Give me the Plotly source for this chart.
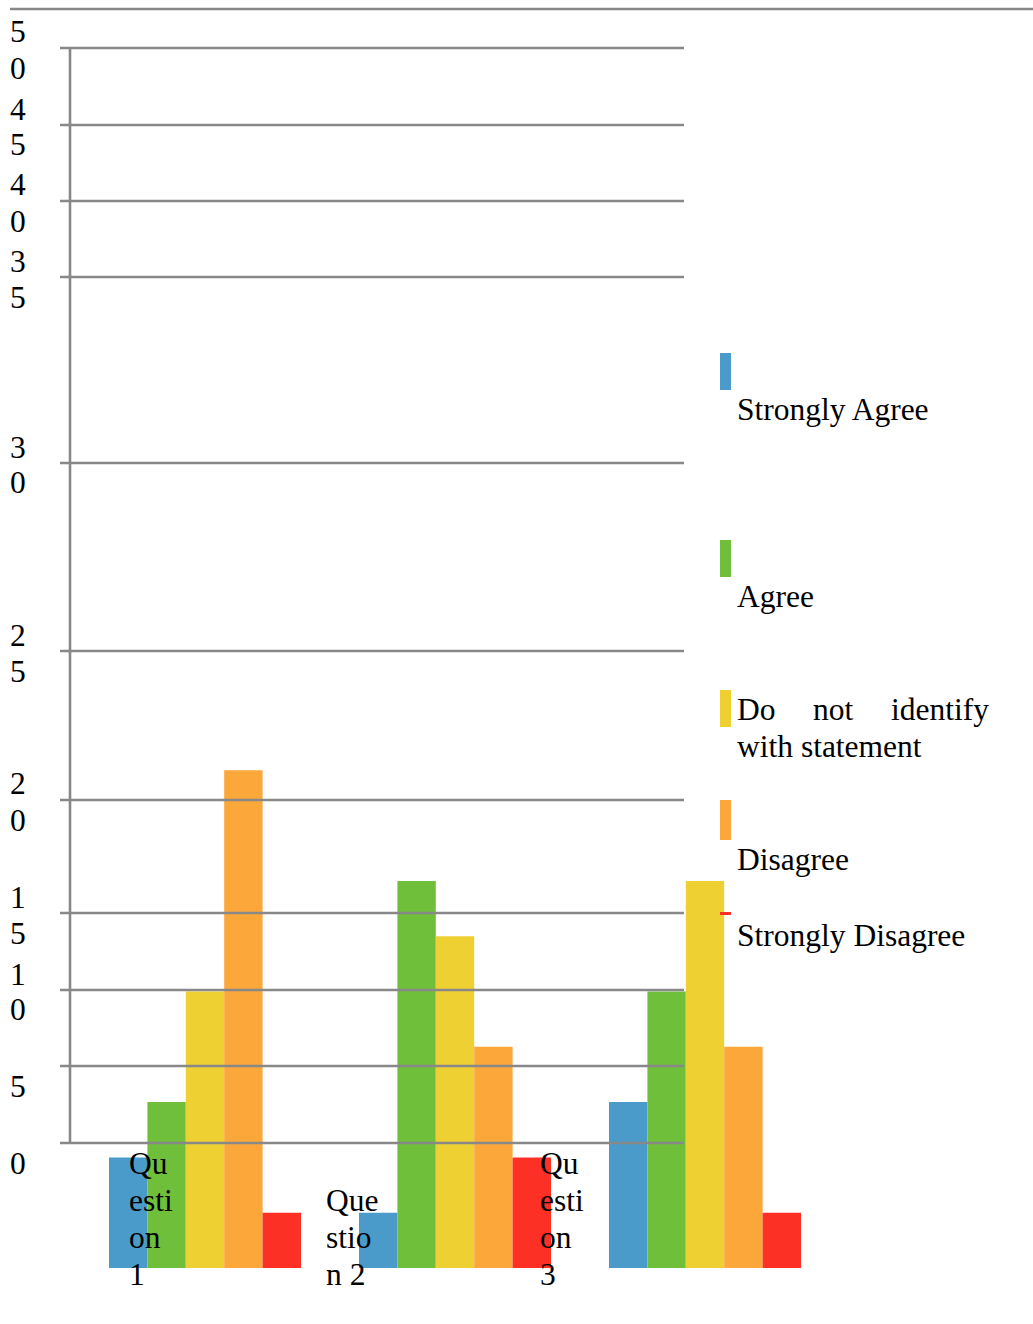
import plotly.graph_objects as go

# ---- data -------------------------------------------------------------
CATEGORIES = ["Question 1", "Question 2", "Question 3"]
CATEGORY_LINES = [["Qu", "esti", "on", "1"], ["Que", "stio", "n 2"], ["Qu", "esti", "on", "3"]]

SERIES = ["Strongly Agree", "Agree", "Do not identify with statement", "Disagree", "Strongly Disagree"]
STRONGLY_AGREE = [2, 1, 3]
AGREE = [3, 7, 5]
DO_NOT_IDENTIFY = [5, 6, 7]
DISAGREE = [9, 4, 4]
STRONGLY_DISAGREE = [1, 2, 1]

Y_TICK_LABELS = ["0", "5", "10", "15", "20", "25", "30", "35", "40", "45", "50"]

# ---- styling / layout -------------------------------------------------
COLORS = ["#4a9bca", "#70bf3a", "#efd032", "#fca73a", "#fd3026"]
GRID_COLOR = "#888888"
FONT = "Liberation Serif"
FS = 31.5

W, H = 1033, 1324
PLOT_L, PLOT_R, PLOT_T, PLOT_B = 70, 830, 0, 1268
UNIT_PX = 55.3          # pixels per count on the bar axis

# rows (px) of the value grid, one per tick label
GRID_ROWS = [1143, 1066, 990, 913, 800, 651, 463, 277, 201, 125, 48]
GRID_X0, GRID_X1, AXIS_X = 60, 684, 70


def px_x(px):
    return (px - PLOT_L) / (PLOT_R - PLOT_L)


def px_y(py):
    return (PLOT_B - py) / (PLOT_B - PLOT_T)


values = [STRONGLY_AGREE, AGREE, DO_NOT_IDENTIFY, DISAGREE, STRONGLY_DISAGREE]

fig = go.Figure()
for name, vals, col in zip(SERIES, values, COLORS):
    fig.add_trace(go.Bar(x=CATEGORIES, y=vals, name=name, marker=dict(color=col, line=dict(width=0)),
                         hoverinfo="skip"))

shapes = []
annotations = []

# top rule
shapes.append(dict(type="line", xref="paper", yref="paper", x0=px_x(10), x1=px_x(1040),
                   y0=px_y(9), y1=px_y(9), line=dict(color=GRID_COLOR, width=2.6), layer="above"))
# value grid, drawn over the bars
for row in GRID_ROWS:
    shapes.append(dict(type="line", xref="paper", yref="paper", x0=px_x(GRID_X0), x1=px_x(GRID_X1),
                       y0=px_y(row), y1=px_y(row), line=dict(color=GRID_COLOR, width=2.6), layer="above"))
# vertical axis line
shapes.append(dict(type="line", xref="paper", yref="paper", x0=px_x(AXIS_X), x1=px_x(AXIS_X),
                   y0=px_y(GRID_ROWS[0]), y1=px_y(GRID_ROWS[-1]), line=dict(color=GRID_COLOR, width=2.6),
                   layer="above"))


def add_text(text, left, row):
    annotations.append(dict(text=text, xref="paper", yref="paper", x=px_x(left - 2), y=px_y(row),
                            xanchor="left", yanchor="middle", showarrow=False,
                            font=dict(family=FONT, size=FS, color="black")))


# tick labels, wrapped one character per line
for lab, row in zip(Y_TICK_LABELS, GRID_ROWS):
    chars = list(lab)
    if len(chars) == 1:
        add_text(chars[0], 10, row + 20)
    else:
        add_text(chars[0], 10, row - 16)
        add_text(chars[1], 10, row + 20)

# category labels
CAT_LEFT = [129, 326, 540]
CAT_FIRST_ROW = [1163, 1200, 1163]
LINE_STEP = 37
for lines, left, first in zip(CATEGORY_LINES, CAT_LEFT, CAT_FIRST_ROW):
    for i, ln in enumerate(lines):
        add_text(ln, left, first + i * LINE_STEP)

# legend: swatch + label(s)
SWATCH_X0, SWATCH_X1, TEXT_X = 720, 731, 737
SWATCH_ROWS = [(353, 390), (540, 577), (690, 727), (800, 840), (912, 915)]
for (y0, y1), col in zip(SWATCH_ROWS, COLORS):
    shapes.append(dict(type="rect", xref="paper", yref="paper", x0=px_x(SWATCH_X0), x1=px_x(SWATCH_X1),
                       y0=px_y(y1), y1=px_y(y0), fillcolor=col, line=dict(width=0), layer="above"))

add_text(SERIES[0], TEXT_X, 409)
add_text(SERIES[1], TEXT_X, 596)
words = SERIES[2].split(" ")
for w, x in zip(words[:3], [TEXT_X, 813, 891]):
    add_text(w, x, 709)
add_text(" ".join(words[3:]), TEXT_X, 746)
add_text(SERIES[3], TEXT_X, 859)
add_text(SERIES[4], TEXT_X, 935)

fig.update_layout(
    width=W, height=H, autosize=False,
    margin=dict(l=PLOT_L, r=W - PLOT_R, t=PLOT_T, b=H - PLOT_B, pad=0),
    paper_bgcolor="white", plot_bgcolor="white",
    barmode="group", bargap=0.232, bargroupgap=0,
    showlegend=False,
    xaxis=dict(range=[-0.54, 2.5], visible=False, fixedrange=True),
    yaxis=dict(range=[0, (PLOT_B - PLOT_T) / UNIT_PX], visible=False, fixedrange=True),
    shapes=shapes, annotations=annotations,
)

fig.write_html("out.html", config={"displayModeBar": False})
